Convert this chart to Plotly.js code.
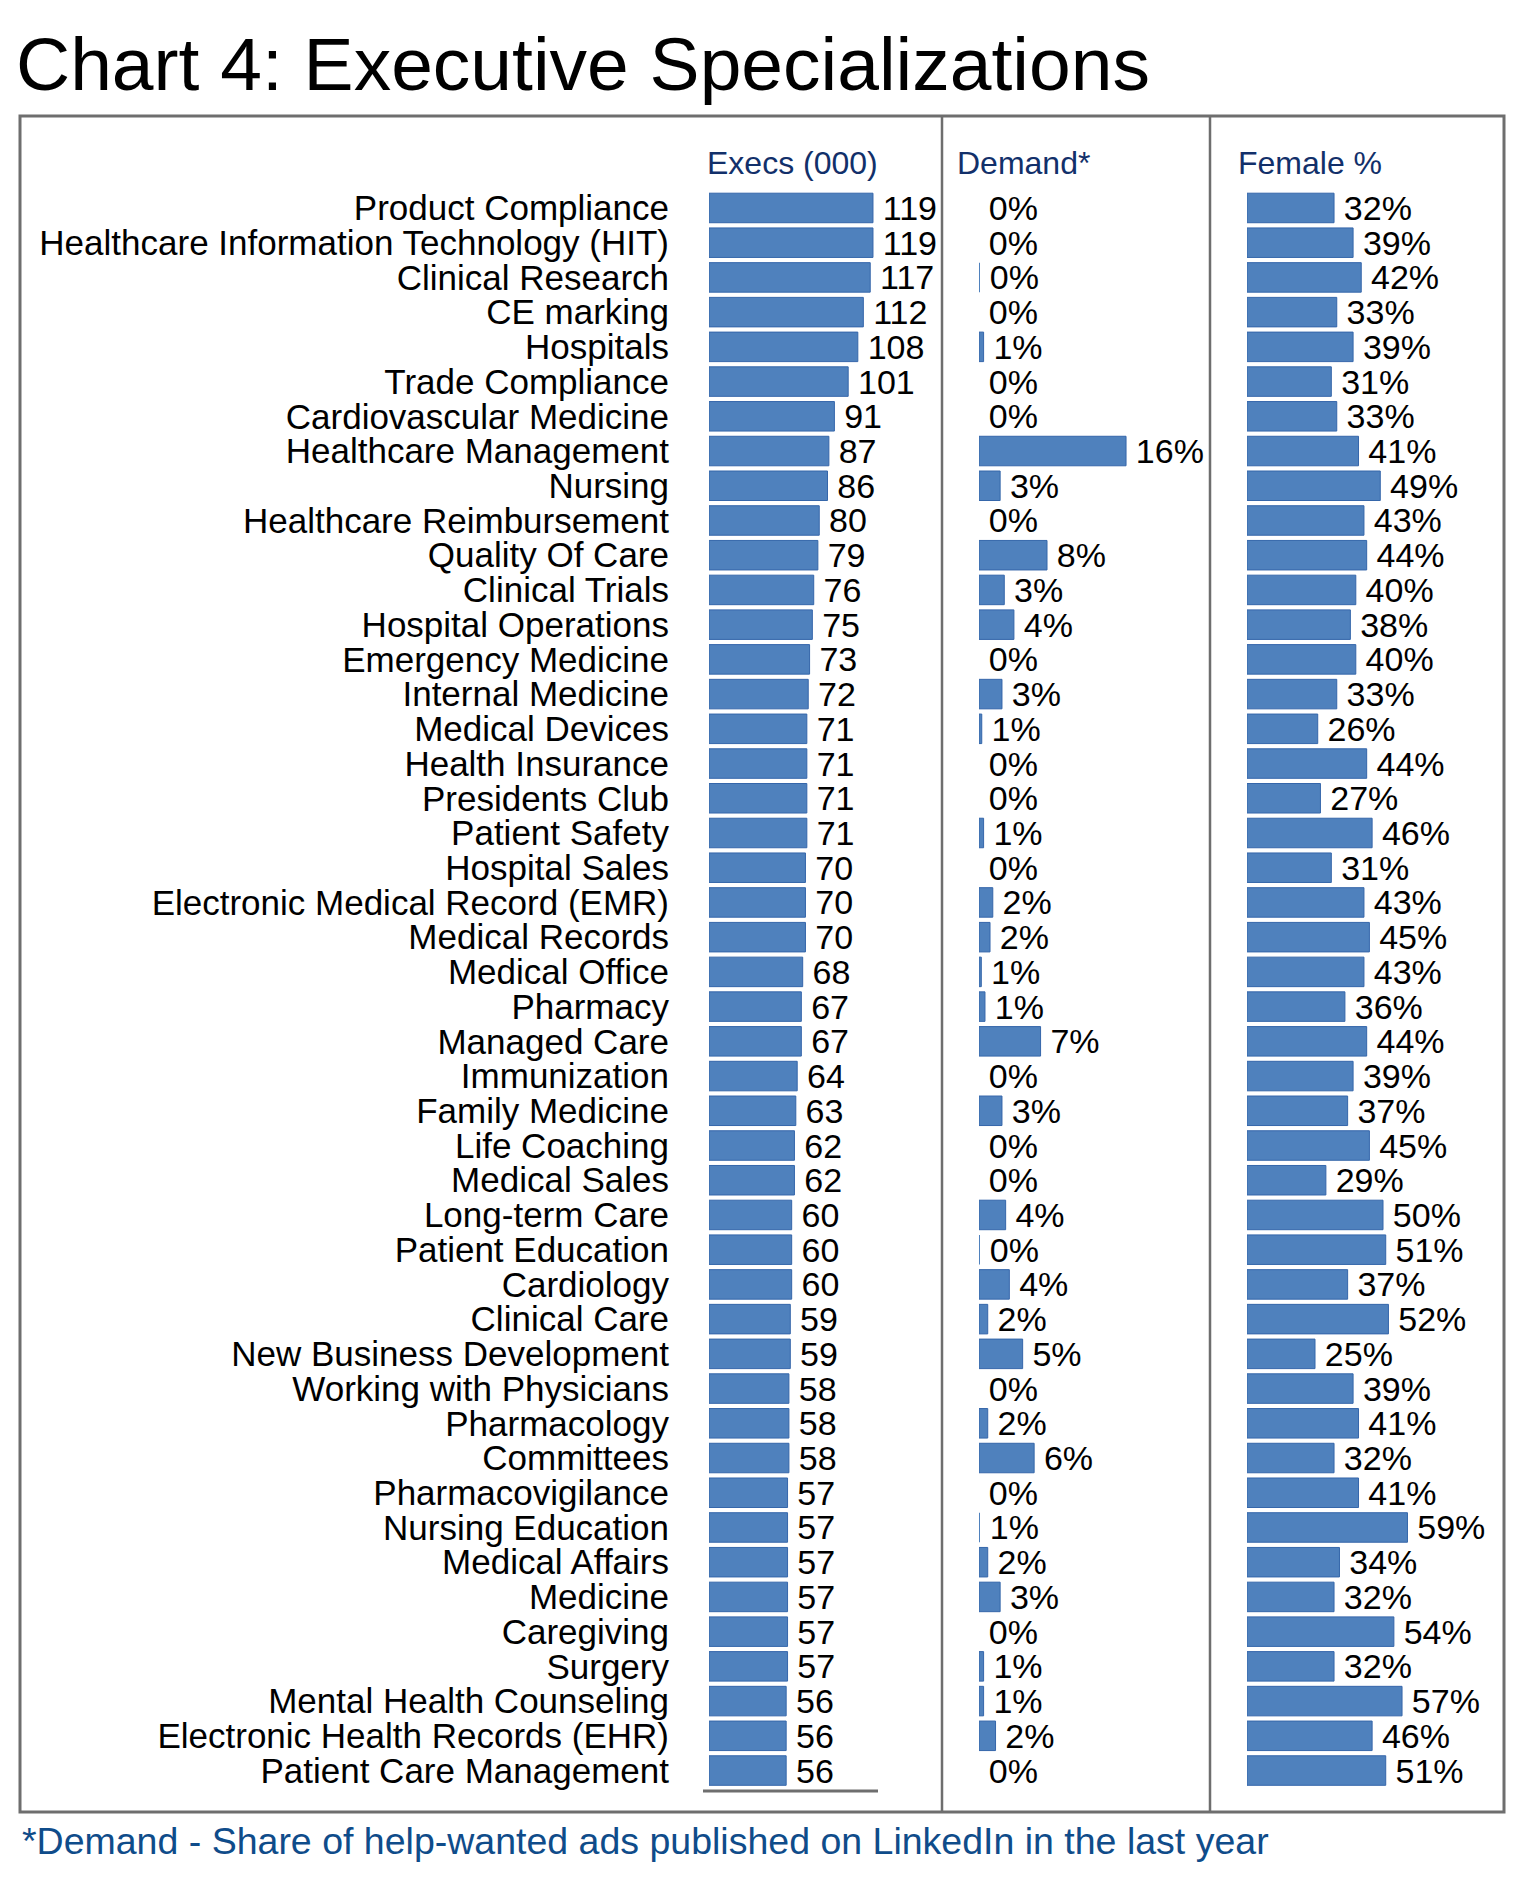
<!DOCTYPE html>
<html>
<head>
<meta charset="utf-8">
<script src="https://cdn.plot.ly/plotly-3.0.1.min.js"></script>
<style>
  html, body { margin: 0; padding: 0; background: #ffffff; }
  #chart { width: 1524px; height: 1890px; }
</style>
</head>
<body>
<div id="chart"></div>
<script>
// ---------------- DATA ----------------
var categories = [
  "Product Compliance",
  "Healthcare Information Technology (HIT)",
  "Clinical Research",
  "CE marking",
  "Hospitals",
  "Trade Compliance",
  "Cardiovascular Medicine",
  "Healthcare Management",
  "Nursing",
  "Healthcare Reimbursement",
  "Quality Of Care",
  "Clinical Trials",
  "Hospital Operations",
  "Emergency Medicine",
  "Internal Medicine",
  "Medical Devices",
  "Health Insurance",
  "Presidents Club",
  "Patient Safety",
  "Hospital Sales",
  "Electronic Medical Record (EMR)",
  "Medical Records",
  "Medical Office",
  "Pharmacy",
  "Managed Care",
  "Immunization",
  "Family Medicine",
  "Life Coaching",
  "Medical Sales",
  "Long-term Care",
  "Patient Education",
  "Cardiology",
  "Clinical Care",
  "New Business Development",
  "Working with Physicians",
  "Pharmacology",
  "Committees",
  "Pharmacovigilance",
  "Nursing Education",
  "Medical Affairs",
  "Medicine",
  "Caregiving",
  "Surgery",
  "Mental Health Counseling",
  "Electronic Health Records (EHR)",
  "Patient Care Management"
];

// Executives (thousands)
var execs = [119,119,117,112,108,101,91,87,86,80,79,76,75,73,72,71,71,71,71,70,70,70,68,67,67,64,63,62,62,60,60,60,59,59,58,58,58,57,57,57,57,57,57,56,56,56];

// Demand (% of help-wanted ads) - bar lengths
var demand = [0,0,0.1,0,0.5,0,0,16,2.3,0,7.4,2.75,3.8,0,2.5,0.3,0,0,0.5,0,1.5,1.2,0.25,0.65,6.7,0,2.5,0,0,2.9,0.1,3.3,0.95,4.75,0,0.95,6.0,0,0.1,0.95,2.3,0,0.5,0.5,1.8,0];
// Demand labels as printed
var demandLabels = ["0%","0%","0%","0%","1%","0%","0%","16%","3%","0%","8%","3%","4%","0%","3%","1%","0%","0%","1%","0%","2%","2%","1%","1%","7%","0%","3%","0%","0%","4%","0%","4%","2%","5%","0%","2%","6%","0%","1%","2%","3%","0%","1%","1%","2%","0%"];

// Female share (%)
var female = [32,39,42,33,39,31,33,41,49,43,44,40,38,40,33,26,44,27,46,31,43,45,43,36,44,39,37,45,29,50,51,37,52,25,39,41,32,41,59,34,32,54,32,57,46,51];

// Headers / texts
var chartTitle = "Chart 4: Executive Specializations";
var headers = ["Execs (000)", "Demand*", "Female %"];
var footnote = "*Demand - Share of help-wanted ads published on LinkedIn in the last year";

// ---------------- LAYOUT HELPERS ----------------
var W = 1524, H = 1890;
function px(x) { return x / W; }
function py(y) { return 1 - y / H; }

var FONT = "Liberation Sans, Arial, Helvetica, sans-serif";
var barFill = "#4f81bd";
var barEdge = "#3566aa";
var GAP = "\u2009";

// pixel scales of the three panels
var execStart = 709, execEnd = 935, execScale = 1.378;
var demStart = 979, demEnd = 1200, demScale = 9.19;
var femStart = 1247, femEnd = 1498, femScale = 2.72;
var plotTop = 190.6, plotBottom = 1787.9;

var common = {
  type: "bar",
  orientation: "h",
  y: categories,
  textposition: "outside",
  cliponaxis: false,
  constraintext: "none",
  textfont: { family: FONT, size: 34, color: "#000000" },
  hoverinfo: "skip"
};

var t1 = Object.assign({}, common, {
  x: execs,
  text: execs.map(function (v) { return GAP + v; }),
  xaxis: "x", yaxis: "y",
  marker: { color: barFill, line: { color: barEdge, width: 1 } }
});

var t2 = Object.assign({}, common, {
  x: demand,
  text: demandLabels.map(function (s) { return GAP + s; }),
  xaxis: "x2", yaxis: "y",
  marker: {
    color: barFill,
    line: { color: barEdge, width: demand.map(function (v) { return v < 0.2 ? 0 : 1; }) }
  }
});

var t3 = Object.assign({}, common, {
  x: female,
  text: female.map(function (v) { return GAP + v + "%"; }),
  xaxis: "x3", yaxis: "y",
  marker: { color: barFill, line: { color: barEdge, width: 1 } }
});

function hiddenX(start, end, scale) {
  return {
    domain: [px(start), px(end)],
    range: [0, (end - start) / scale],
    anchor: "y",
    showgrid: false, zeroline: false, showline: false,
    showticklabels: false, ticks: "", fixedrange: true
  };
}

var lineGray = "#6e6e6e";

var layout = {
  width: W, height: H,
  margin: { l: 0, r: 0, t: 0, b: 0, pad: 0 },
  paper_bgcolor: "#ffffff",
  plot_bgcolor: "rgba(0,0,0,0)",
  showlegend: false,
  bargap: 0.15,
  font: { family: FONT, color: "#000000" },
  title: {
    text: chartTitle,
    font: { family: FONT, size: 75, color: "#000000" },
    x: px(16), xref: "paper", xanchor: "left",
    y: py(64), yref: "container", yanchor: "middle"
  },
  xaxis: hiddenX(execStart, execEnd, execScale),
  xaxis2: hiddenX(demStart, demEnd, demScale),
  xaxis3: hiddenX(femStart, femEnd, femScale),
  yaxis: {
    domain: [py(plotBottom), py(plotTop)],
    type: "category",
    range: [categories.length - 0.5, -0.5],
    tickmode: "linear", tick0: 0, dtick: 1,
    anchor: "x",
    showgrid: false, zeroline: false, showline: false,
    ticks: "outside", ticklen: 32, tickcolor: "rgba(0,0,0,0)",
    tickfont: { family: FONT, size: 35, color: "#000000" },
    automargin: false, fixedrange: true
  },
  annotations: [
    { text: headers[0], x: px(705), y: py(163), xref: "paper", yref: "paper", xanchor: "left", yanchor: "middle", showarrow: false, font: { family: FONT, size: 32, color: "#12306a" } },
    { text: headers[1], x: px(955), y: py(163), xref: "paper", yref: "paper", xanchor: "left", yanchor: "middle", showarrow: false, font: { family: FONT, size: 32, color: "#12306a" } },
    { text: headers[2], x: px(1236), y: py(163), xref: "paper", yref: "paper", xanchor: "left", yanchor: "middle", showarrow: false, font: { family: FONT, size: 32, color: "#12306a" } },
    { text: footnote, x: px(20), y: py(1841), xref: "paper", yref: "paper", xanchor: "left", yanchor: "middle", showarrow: false, font: { family: FONT, size: 37.5, color: "#0f4c8a" } }
  ],
  shapes: [
    { type: "rect", xref: "paper", yref: "paper", x0: px(20), x1: px(1504), y0: py(116), y1: py(1812), line: { color: lineGray, width: 3 }, fillcolor: "rgba(0,0,0,0)" },
    { type: "line", xref: "paper", yref: "paper", x0: px(942), x1: px(942), y0: py(116), y1: py(1812), line: { color: lineGray, width: 2.5 } },
    { type: "line", xref: "paper", yref: "paper", x0: px(1210), x1: px(1210), y0: py(116), y1: py(1812), line: { color: lineGray, width: 2.5 } },
    { type: "line", xref: "paper", yref: "paper", x0: px(703), x1: px(878), y0: py(1791), y1: py(1791), line: { color: lineGray, width: 3 } }
  ]
};

Plotly.newPlot("chart", [t1, t2, t3], layout, { displayModeBar: false, responsive: false });
</script>
</body>
</html>
